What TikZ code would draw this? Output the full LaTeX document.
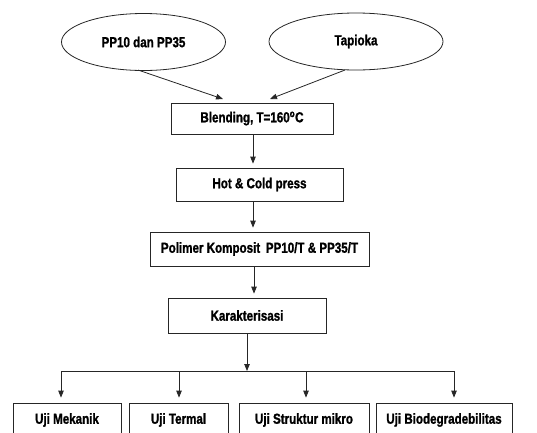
\documentclass[tikz,border=0pt]{standalone}
\usepackage{fontspec}
\setmainfont{Liberation Sans}[FakeStretch=0.8,BoldFeatures={FakeBold=1.2}]
\usetikzlibrary{shapes.geometric,arrows.meta}
\begin{document}
\begin{tikzpicture}[x=1pt,y=-1pt,
  font=\fontsize{14.5}{16}\selectfont\bfseries,
  box/.style={draw=black!85,line width=0.8pt,rectangle,inner sep=0pt},
  oval/.style={draw=black!85,line width=0.8pt,ellipse,inner sep=0pt},
  arr/.style={draw=black!85,line width=0.8pt,-{Triangle[length=7pt,width=5.5pt]}},
  ln/.style={draw=black!85,line width=0.8pt}]
\useasboundingbox (0,0) rectangle (537,432);
\node[oval,minimum width=164pt,minimum height=57pt] (pp) at (143.5,42) {PP10 dan PP35};
\node[oval,minimum width=174pt,minimum height=57pt] (tap) at (356,41.5) {Tapioka};
\node[box,minimum width=162pt,minimum height=31pt] (blend) at (252,118.5) {Blending, T=160\textsuperscript{o}C};
\node[box,minimum width=167pt,minimum height=33pt] (hot) at (259.5,184.5) {Hot \& Cold press};
\node[box,minimum width=219pt,minimum height=34pt] (poli) at (259.5,249) {Polimer Komposit\, PP10/T \& PP35/T};
\node[box,minimum width=158pt,minimum height=35pt] (kar) at (247,315.5) {Karakterisasi};
\node[box,minimum width=108pt,minimum height=34pt] (u1) at (67,420) {Uji Mekanik};
\node[box,minimum width=99pt,minimum height=34pt] (u2) at (178.5,420) {Uji Termal};
\node[box,minimum width=130pt,minimum height=34pt] (u3) at (304,420) {Uji Struktur mikro};
\node[box,minimum width=136pt,minimum height=34pt] (u4) at (444,420) {Uji Biodegradebilitas};
\coordinate (p1) at (138,70);
\coordinate (p2) at (345,70);
\coordinate (e1) at (223,99);
\coordinate (e2) at (270,99);
\draw[arr] (p1) -- (e1);
\draw[arr] (p2) -- (e2);
\coordinate (c1) at (253,0);
\coordinate (c2) at (254,0);
\coordinate (c3) at (247,0);
\draw[arr,shorten >=4pt] (blend.south -| c1) -- (hot.north -| c1);
\draw[arr,shorten >=4pt] (hot.south -| c1) -- (poli.north -| c1);
\draw[arr,shorten >=4pt] (poli.south -| c2) -- (kar.north -| c2);
\coordinate (j) at (247,371);
\coordinate (jl) at (61,371);
\coordinate (jr) at (454,371);
\draw[arr] (kar.south -| c3) -- (j);
\draw[ln] (jl) -- (jr);
\coordinate (d2) at (179,371);
\coordinate (d3) at (306,371);
\draw[arr,shorten >=5pt] (jl) -- (u1.north -| jl);
\draw[arr,shorten >=5pt] (d2) -- (u2.north -| d2);
\draw[arr,shorten >=5pt] (d3) -- (u3.north -| d3);
\draw[arr,shorten >=5pt] (jr) -- (u4.north -| jr);
\end{tikzpicture}
\end{document}
